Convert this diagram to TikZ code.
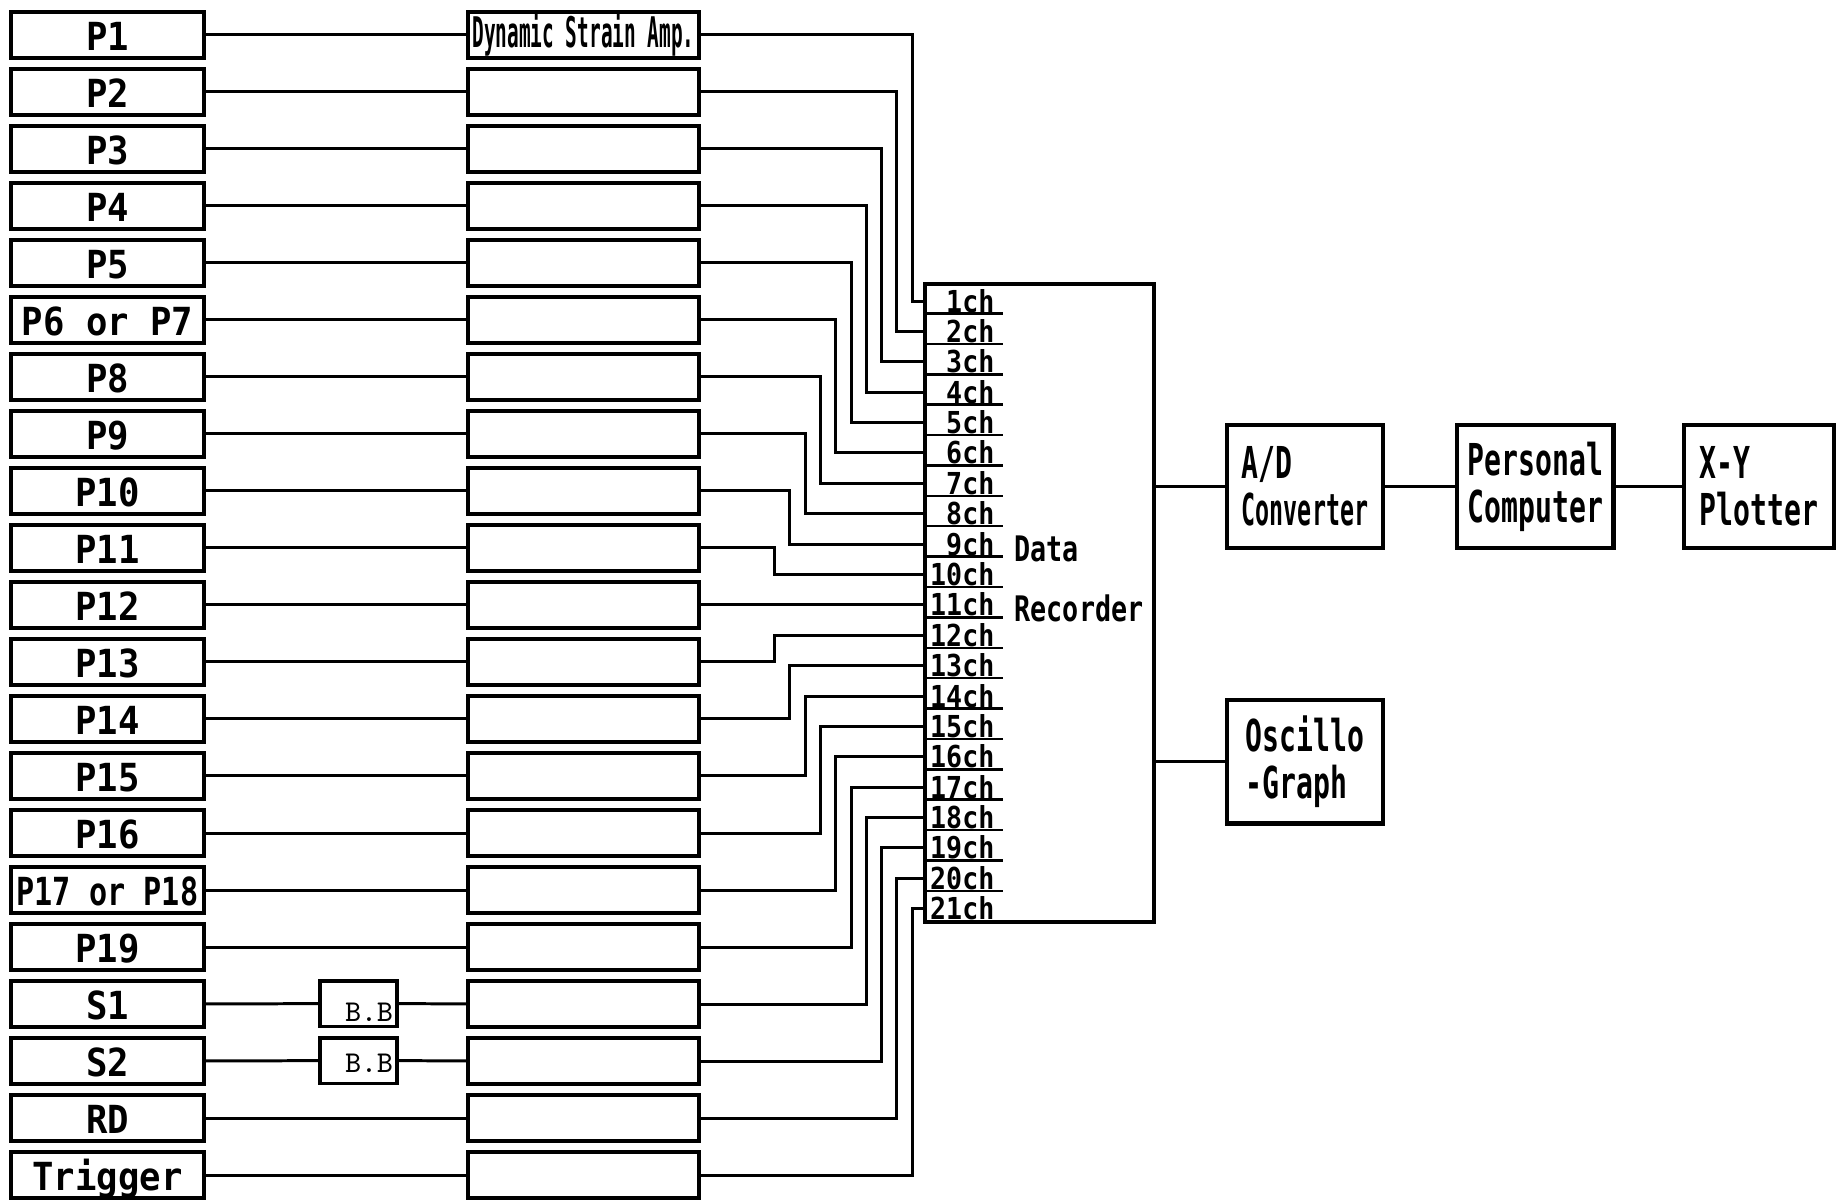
\documentclass[tikz,border=0pt]{standalone}
\usepackage{fontspec}
\usetikzlibrary{positioning}
\newfontfamily\srcfont[FakeStretch=0.92]{DejaVu Sans Mono}
\newfontfamily\srcnarrow[FakeStretch=0.78]{DejaVu Sans Mono}
\newfontfamily\ampfont[FakeStretch=0.46]{DejaVu Sans Mono}
\newfontfamily\chfont[FakeStretch=0.88]{DejaVu Sans Mono}
\newfontfamily\recfont[FakeStretch=0.76]{DejaVu Sans Mono}
\newfontfamily\devfont[FakeStretch=0.64]{DejaVu Sans Mono}
\newfontfamily\devnarrow[FakeStretch=0.53]{DejaVu Sans Mono}
\newcommand{\narrowtxt}[1]{{\devnarrow\bfseries\fontsize{12.5pt}{13.4pt}\selectfont #1}}
\newcommand{\narrowsrc}[1]{{\srcnarrow\bfseries\fontsize{11pt}{12pt}\selectfont #1}}

\tikzset{
  box/.style={draw, line width=1.1pt, inner sep=0pt},
  srcbox/.style={box, minimum width=1.93cm, minimum height=0.46cm,
    text height=0.31cm, text depth=0cm,
    font=\srcfont\bfseries\fontsize{11pt}{12pt}\selectfont},
  ampbox/.style={box, minimum width=2.31cm, minimum height=0.46cm},
  amptext/.style={inner sep=0pt, font=\ampfont\bfseries\fontsize{12pt}{13pt}\selectfont},
  bbbox/.style={box, line width=0.9pt, minimum width=0.77cm, minimum height=0.45cm},
  bbtext/.style={inner sep=0pt, anchor=south east, font=\ttfamily\fontsize{8.6pt}{9pt}\selectfont},
  devbox/.style={box, line width=1.2pt, minimum width=1.56cm, minimum height=1.23cm,
    align=left, font=\devfont\bfseries\fontsize{12.5pt}{13.4pt}\selectfont},
  chlabel/.style={anchor=base east, inner sep=0pt,
    font=\chfont\bfseries\fontsize{8.6pt}{10pt}\selectfont},
  rectext/.style={anchor=base west, inner sep=0pt,
    font=\recfont\bfseries\fontsize{10pt}{11pt}\selectfont},
  wire/.style={line width=0.85pt},
  chline/.style={line width=0.7pt}
}

\begin{document}
\begin{tikzpicture}[x=0.01cm, y=-0.01cm]
  \def\rowtop{34.6}
  \def\rowpitch{57.03}
  \def\chmid{604.9}
  \def\chpitch{30.38}
  \useasboundingbox (0,0) rectangle (1838,1201);

%sensors and amplifiers:
  \foreach \lbl [count=\i] in {P1,P2,P3,P4,P5,P6 or P7,P8,P9,P10,P11,P12,P13,P14,P15,P16,\narrowsrc{P17 or P18},P19,S1,S2,RD,Trigger}{
    \pgfmathsetmacro\ry{\rowtop+\rowpitch*(\i-1)}
    \node[srcbox] (src\i) at (107.5,\ry) {\lbl};
    \node[ampbox] (amp\i) at (583.5,\ry) {};
  }
  \node[amptext] (amptitle) at (amp1) {Dynamic Strain Amp.};

  \node[bbbox] (bb1) at (358.5,1003.6) {};
  \node[bbtext] (bbtxt1) at ([shift={(-0.05cm,0.05cm)}]bb1.south east) {B.B};
  \node[bbbox] (bb2) at (358.5,1060.6) {};
  \node[bbtext] (bbtxt2) at ([shift={(-0.05cm,0.11cm)}]bb2.south east) {B.B};

  \foreach \i in {1,...,17,20,21}
    \draw[wire] (src\i) -- (amp\i);
  \draw[wire] (src18) -- (bb1);
  \draw[wire] (bb1) -- (amp18);
  \draw[wire] (src19) -- (bb2);
  \draw[wire] (bb2) -- (amp19);

%data recorder:
  \node[box, line width=1.2pt, minimum width=2.29cm, minimum height=6.38cm] (rec) at (1039.5,602.9) {};
  \foreach \k in {1,...,21}{
    \pgfmathsetmacro\cy{\chmid+\chpitch*(\k-11)}
    \coordinate (ch\k) at (925,\cy);
    \node[chlabel] (lab\k) at (995,\cy+11) {\k ch};
    \ifnum\k<21 \draw[chline] (925,\cy+12.5) -- (1003,\cy+12.5); \fi
  }
  \node[rectext] (rectxt1) at (1014,562) {Data};
  \node[rectext] (rectxt2) at (1014,622) {Recorder};

  \foreach \k in {1,...,21}{
    \pgfmathsetmacro\vx{772.5+15.3*(abs(\k-11)-1)-699}
    \draw[wire] (amp\k.east) -- ++(\vx,0) |- (ch\k);
  }

%output devices:
  \node[devbox] (ad) at (1305,486.5) {A/D\\\narrowtxt{Converter}};
  \node[devbox, right=0.7cm of ad] (pc) {Personal\\Computer};
  \node[devbox, right=0.66cm of pc, minimum width=1.5cm] (xy) {X-Y\\Plotter};
  \node[devbox, below=1.48cm of ad] (osc) {Oscillo\\-Graph};

  \draw[wire] (rec.east |- ad.west) -- (ad.west);
  \draw[wire] (rec.east |- osc.west) -- (osc.west);
  \draw[wire] (ad) -- (pc);
  \draw[wire] (pc) -- (xy);
\end{tikzpicture}
\end{document}
